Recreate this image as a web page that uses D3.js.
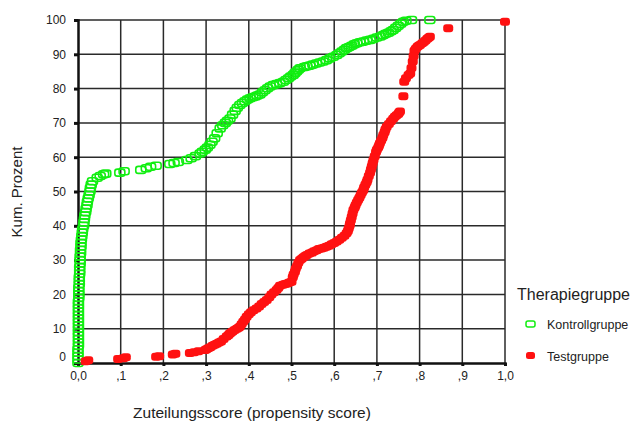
<!DOCTYPE html>
<html>
<head>
<meta charset="utf-8">
<script src="https://cdn.jsdelivr.net/npm/d3@7"></script>
<style>
  body { margin: 0; background: #fff; }
  text { font-family: "Liberation Sans", Arial, sans-serif; fill: #222; }
</style>
</head>
<body>
<svg id="chart" width="631" height="421"></svg>
<script>
// kumulative Verteilung des Zuteilungsscores je Gruppe
var kontrollScore = [0.000,0.000,0.000,0.001,0.001,0.001,0.001,0.001,0.001,0.001,0.002,0.002,0.003,0.004,0.004,0.005,0.006,0.007,0.008,0.010,
    0.013,0.015,0.018,0.021,0.024,0.028,0.031,0.034,0.045,0.052,0.060,0.065,0.098,0.108,0.147,0.160,0.170,0.183,0.215,0.225,
    0.235,0.255,0.265,0.275,0.286,0.298,0.309,0.320,0.333,0.345,0.356,0.368,0.379,0.391,0.403,0.415,0.426,0.438,0.450,0.465,
    0.481,0.493,0.504,0.512,0.520,0.530,0.543,0.558,0.574,0.590,0.606,0.618,0.629,0.641,0.653,0.668,0.684,0.700,0.715,0.727,
    0.738,0.750,0.762,0.781,0.824,
    0.000,0.000,0.001,0.001,0.001,0.001,0.001,0.001,0.001,0.002,0.002,0.003,0.003,0.004,0.005,0.005,0.006,0.007,0.009,
    0.011,0.014,0.016,0.019,0.022,0.026,0.029,
    0.291,0.303,0.314,0.326,0.339,0.350,0.362,0.373,0.385,0.397,0.409,0.420,0.432,0.444,0.457,0.473,0.487,0.498,0.508,0.516,
    0.536,0.550,0.566,0.582,0.598,0.612,0.624,0.635,0.647,0.660,0.676,0.692,0.708,0.721,0.733,0.744,0.756,0.768];
var kontrollPct = [0,2,4,6,8,10,12,14,16,18,20,22,24,26,28,30,32,34,36,38,
    40,42,44,46,48,50,52,53,54,54.5,55,55.2,55.5,55.9,56.3,56.8,57.2,57.5,58.0,58.3,
    58.6,59.2,59.7,60.3,61.1,62.2,63.6,65.5,68.4,70,71.3,73.5,75.2,76.3,77.2,77.7,78.3,79.5,80.6,81.3,
    82.0,83.0,84.0,85.0,85.9,86.3,86.7,87.3,87.9,88.8,89.8,90.8,91.8,92.5,93.2,93.7,94.2,94.9,95.6,96.3,
    97.1,98.3,99.5,100,100,
    1,3,5,7,9,11,13,15,17,19,21,23,25,27,29,31,33,35,37,
    39,41,43,45,47,49,51,
    61.6,62.8,64.5,67,69.3,70.6,72.4,74.4,75.8,76.8,77.5,78,78.9,80.1,81,81.6,82.5,83.5,84.5,85.5,
    86.5,87,87.6,88.3,89.3,90.3,91.3,92.1,92.9,93.5,94,94.5,95.2,96,96.7,97.7,98.9,99.8];

var testScore = [0.018,0.024,0.094,0.106,0.112,0.183,0.190,0.222,0.228,0.262,0.272,0.282,0.298,0.305,0.315,0.325,0.335,0.348,0.355,0.362,
    0.372,0.379,0.387,0.395,0.405,0.418,0.430,0.442,0.453,0.465,0.473,0.480,0.490,0.500,0.503,0.508,0.513,0.520,0.528,0.536,
    0.548,0.559,0.570,0.582,0.594,0.606,0.618,0.629,0.634,0.637,0.641,0.645,0.650,0.656,0.662,0.668,0.673,0.678,0.684,0.688,
    0.692,0.698,0.703,0.707,0.713,0.718,0.723,0.733,0.742,0.750,0.754,0.762,0.764,0.768,0.774,0.778,0.784,0.788,0.795,0.801,
    0.810,0.818,0.824,0.867,1.0,
    0.301,0.310,0.320,0.330,0.341,0.352,0.358,0.367,0.376,0.383,0.391,0.400,0.411,0.424,0.436,0.448,0.459,0.469,0.485,0.495,
    0.505,0.510,0.516,0.524,0.532,0.542,0.553,0.564,0.576,0.588,0.600,0.612,0.624,0.632,0.636,0.639,0.643,0.648,0.653,0.659,
    0.665,0.670,0.676,0.681,0.686,0.690,0.695,0.700,0.705,0.710,0.715,0.720,0.728,0.738,0.746,0.752,0.781,0.786,0.791,0.798,
    0.806,0.814,0.821];
var testPct = [0.5,0.8,1.2,1.4,1.7,1.8,2.0,2.5,2.7,2.9,3.1,3.4,3.8,4.3,5.0,5.6,6.3,7.7,8.5,9.2,
    10.0,10.6,12.0,13.5,14.8,15.9,17.2,18.4,20.0,21.3,22.5,22.8,23.2,23.7,25,26.6,28.3,30.0,30.8,31.5,
    32.2,32.9,33.4,33.9,34.6,35.4,36.5,37.8,39.2,40.7,42.6,44.6,46.0,47.5,49.0,50.4,52.0,53.4,55.5,57.3,
    59.2,61.5,62.8,64.1,65.7,67.3,68.9,70.5,71.8,72.6,73.3,77.8,82.0,83.0,84.0,84.4,87.9,91.0,92.2,92.7,
    93.6,94.5,95.1,97.6,99.5,
    4.0,4.6,5.3,6.0,7.0,8.1,8.8,9.6,10.3,11.3,12.7,14.2,15.4,16.5,17.8,19.2,20.6,21.9,23.0,23.5,
    25.8,27.5,29.2,30.4,31.2,31.9,32.6,33.2,33.6,34.2,35.0,35.9,37.1,38.5,40.0,41.6,43.6,45.3,46.8,48.2,
    49.7,51.2,52.7,54.5,56.4,58.2,60.3,62.2,63.4,64.9,66.5,68.1,69.7,71.2,72.2,73.0,86,89.5,91.6,92.5,
    93.2,94,94.8];

var xTicks = [0,0.1,0.2,0.3,0.4,0.5,0.6,0.7,0.8,0.9,1.0];
var xTickLabels = ["0,0",",1",",2",",3",",4",",5",",6",",7",",8",",9","1,0"];
var yTicks = [0,10,20,30,40,50,60,70,80,90,100];
var groups = ["Kontrollgruppe", "Testgruppe"];

function draw_chart(){
    var svg = d3.select("#chart");
    var x = d3.scaleLinear().domain([0, 1]).range([78, 505]);
    var y = d3.scaleLinear().domain([0, 100]).range([363, 20]);

    // grid
    var grid = svg.append("g");
    grid.selectAll(".vg").data(xTicks.slice(1))
      .enter().append("line")
        .attr("x1", d => x(d)).attr("x2", d => x(d))
        .attr("y1", y(0)).attr("y2", y(100))
        .attr("stroke", "#2a2a2a").attr("stroke-width", 1.5);
    grid.selectAll(".hg").data(yTicks.slice(1))
      .enter().append("line")
        .attr("x1", x(0)).attr("x2", x(1))
        .attr("y1", d => y(d)).attr("y2", d => y(d))
        .attr("stroke", "#2a2a2a").attr("stroke-width", 1.5);

    // axes
    var yAxis = svg.append("g")
        .attr("transform", "translate(" + x(0) + ",0)")
        .call(d3.axisLeft(y).tickValues(yTicks).tickSize(4).tickPadding(8).tickFormat(d3.format("d")));
    var xAxis = svg.append("g")
        .attr("transform", "translate(0," + y(0) + ")")
        .call(d3.axisBottom(x).tickValues(xTicks).tickSize(3).tickPadding(5)
            .tickFormat((d, i) => xTickLabels[i]));
    [yAxis, xAxis].forEach(function(a){
        a.select(".domain").attr("stroke", "#111").attr("stroke-width", 2.5);
        a.selectAll(".tick line").attr("stroke", "#111").attr("stroke-width", 3);
        a.selectAll(".tick text").style("font-size", "12px").attr("fill", "#222");
    });
    // "0" sits a bit above the axis in the original
    yAxis.selectAll(".tick text").filter(d => d === 0).attr("dy", "-0.2em");

    // points
    var kontroll = kontrollScore.map((s, i) => [s, kontrollPct[i]]);
    var test = testScore.map((s, i) => [s, testPct[i]]);

    svg.append("g").selectAll("rect").data(kontroll)
      .enter().append("rect")
        .attr("x", d => x(d[0]) - 5).attr("y", d => y(d[1]) - 3.5)
        .attr("width", 10).attr("height", 7).attr("rx", 2.5)
        .attr("fill", "none").attr("stroke", "#11ee11").attr("stroke-width", 1.6);

    svg.append("g").selectAll("rect").data(test)
      .enter().append("rect")
        .attr("x", d => x(d[0]) - 5).attr("y", d => y(d[1]) - 4)
        .attr("width", 10).attr("height", 8).attr("rx", 3)
        .attr("fill", "#ff1111");

    // titles
    svg.append("text")
        .attr("transform", "translate(22,192) rotate(-90)")
        .attr("text-anchor", "middle")
        .style("font-size", "15px")
        .text("Kum. Prozent");
    svg.append("text")
        .attr("x", 252).attr("y", 418)
        .attr("text-anchor", "middle")
        .style("font-size", "15.5px")
        .text("Zuteilungsscore (propensity score)");

    // legend
    var lg = svg.append("g");
    lg.append("text").attr("x", 517).attr("y", 300).style("font-size", "16px").text("Therapiegruppe");
    lg.append("rect").attr("x", 526).attr("y", 321).attr("width", 9).attr("height", 6).attr("rx", 2)
        .attr("fill", "none").attr("stroke", "#11ee11").attr("stroke-width", 1.5);
    lg.append("rect").attr("x", 526).attr("y", 352).attr("width", 9).attr("height", 7).attr("rx", 2.5)
        .attr("fill", "#ff1111");
    lg.selectAll(".lt").data(groups)
      .enter().append("text")
        .attr("x", 547).attr("y", (d, i) => 329 + i * 32)
        .style("font-size", "12.5px")
        .text(d => d);
}

draw_chart();
</script>
</body>
</html>
